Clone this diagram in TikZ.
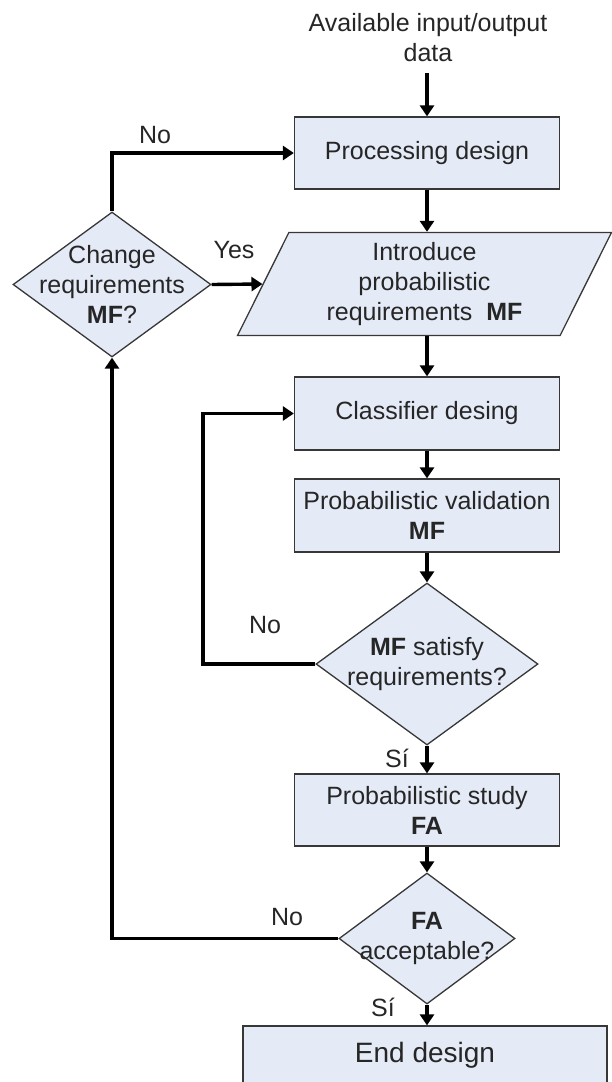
\documentclass[tikz,border=0pt]{standalone}
\usepackage{fontspec}
\setmainfont{Liberation Sans}
\usetikzlibrary{shapes.geometric,arrows.meta}
\definecolor{boxfill}{RGB}{228,234,246}
\definecolor{boxline}{RGB}{55,55,55}
\begin{document}
\begin{tikzpicture}[x=1pt,y=-1pt,
  every node/.style={font=\fontsize{25}{30}\selectfont, align=center, text=black!85},
  box/.style={draw=boxline, fill=boxfill, line width=1.3pt, rectangle,
    minimum width=265pt, minimum height=72pt, inner sep=0pt},
  dia/.style={draw=boxline, fill=boxfill, line width=1.3pt, diamond, inner sep=0pt},
  para/.style={draw=boxline, fill=boxfill, line width=1.3pt, trapezium,
    trapezium left angle=66, trapezium right angle=114,
    trapezium stretches=true, inner sep=0pt},
  flow/.style={line width=3.4pt, -{Triangle[length=11pt,width=14pt]}},
  tag/.style={inner sep=0pt}
]
\useasboundingbox (0,0) rectangle (612,1082);

% input data and first stage
\node[tag] (top) at (428,38) {Available input/output\\data};
\coordinate (tin) at (427,73);
\node[box] (pd) at (427,153) {Processing design};
\node[para, minimum width=375pt, minimum height=103pt] (intro) at (424.5,284)
  {Introduce\\probabilistic\\requirements\ \ \textbf{MF}};

% requirement change decision
\node[dia, minimum width=198pt, minimum height=145pt] (chg) at (112,284.5) {};
\node[tag] (chgT) at (chg) {Change\\requirements\\\textbf{MF}?};

% classifier design loop
\node[box, minimum height=73pt] (cls) at (427,413.5) {Classifier desing};
\node[box, minimum height=73pt] (val) at (427,515.5) {Probabilistic validation\\\textbf{MF}};
\node[dia, minimum width=222pt, minimum height=162pt] (sat) at (427,664) {};
\node[tag] (satT) at (sat) {\textbf{MF} satisfy\\requirements?};
\coordinate (lp) at (203,413.5);

% false alarm study
\node[box] (std) at (427,810) {Probabilistic study\\\textbf{FA}};
\node[dia, minimum width=176pt, minimum height=131pt] (acc) at (427,938.5) {};
\node[tag] (accT) at (acc) {\textbf{FA}\\acceptable?};
\node[box, minimum width=364pt, minimum height=58pt, font=\fontsize{28}{32}\selectfont]
  (end) at (425,1055) {End design};

% connectors
\draw[flow] (tin) -- (pd.north);
\draw[flow] (pd.south) -- (pd.south |- intro.north);
\draw[flow] (chg.north) |- (pd.west);
\draw[flow] (chg.east) -- (intro.west);
\draw[flow] (intro.south -| cls.north) -- (cls.north);
\draw[flow] (cls.south) -- (val.north);
\draw[flow] (val.south) -- (sat.north);
\draw[flow] (sat.west) -| (lp) -- (cls.west);
\draw[flow] (sat.south) -- (std.north);
\draw[flow] (std.south) -- (acc.north);
\draw[flow] (acc.west) -| (chg.south);
\draw[flow] (acc.south) -- (acc.south |- end.north);

% branch labels
\node[tag] (lno1) at (155,135) {No};
\node[tag] (lyes) at (234,250) {Yes};
\node[tag] (lno2) at (265,625) {No};
\node[tag] (lsi1) at (397,758) {Sí};
\node[tag] (lno3) at (287,917) {No};
\node[tag] (lsi2) at (383,1007) {Sí};
\end{tikzpicture}
\end{document}
